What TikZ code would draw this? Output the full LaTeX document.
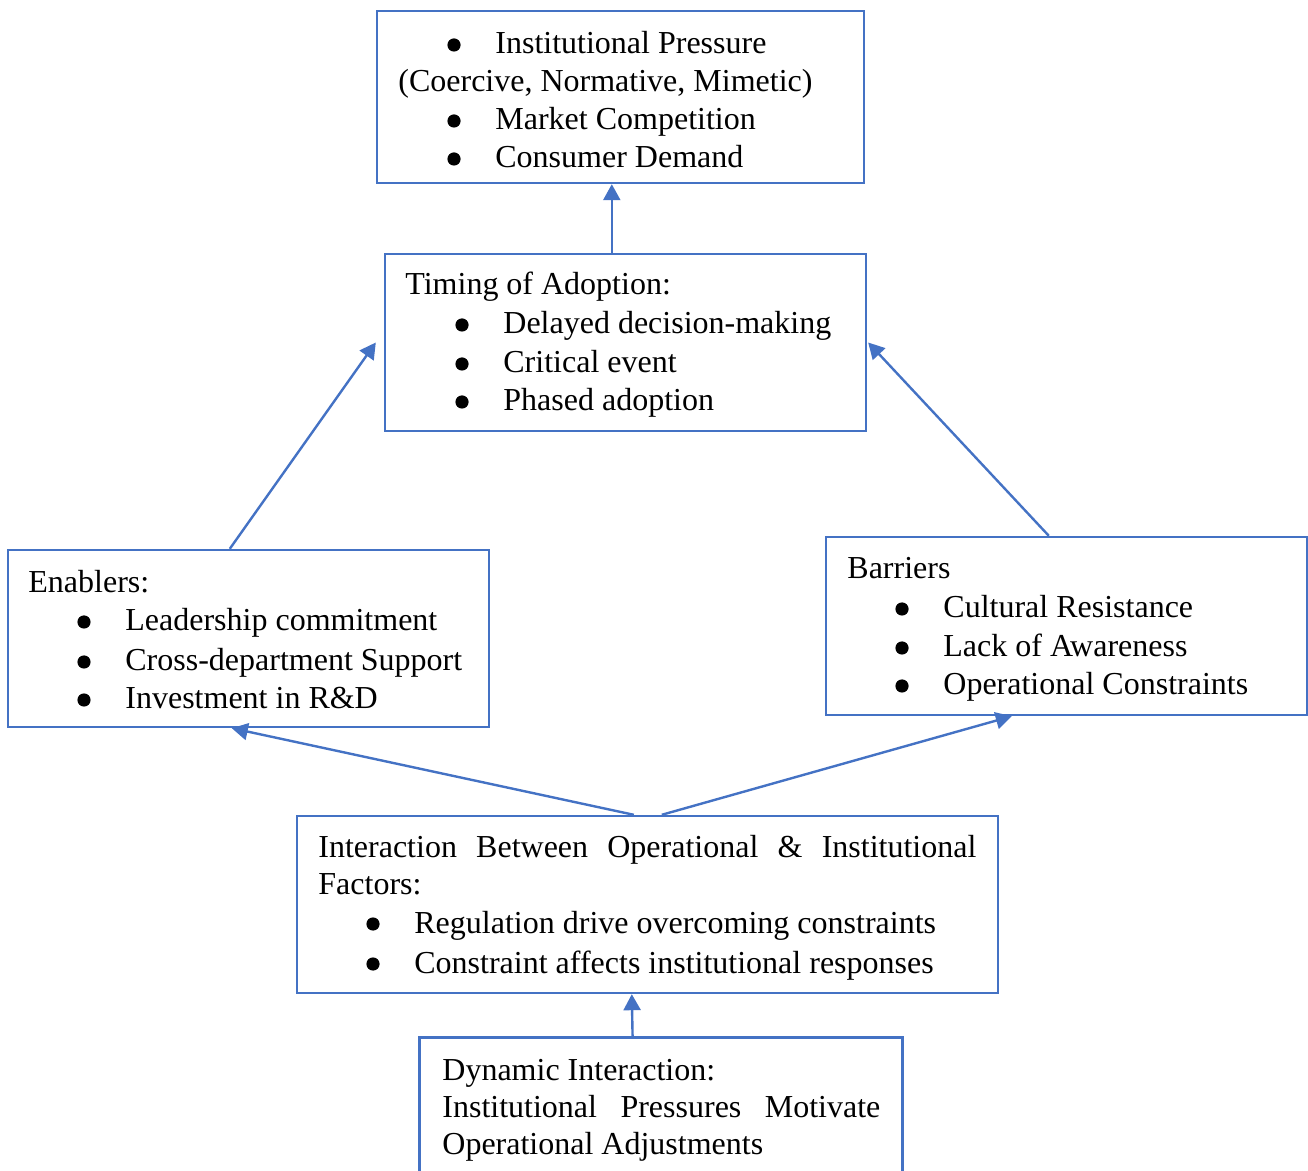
\documentclass[tikz,border=0pt]{standalone}
\usepackage{fontspec}
\setmainfont{Liberation Serif}
\usetikzlibrary{arrows.meta,calc}
\definecolor{boxblue}{RGB}{68,114,196}
\begin{document}
\begin{tikzpicture}[x=0.5pt,y=-0.5pt,
  box/.style={draw=boxblue,line width=1.2pt,inner sep=0pt},
  openbox/.style={inner sep=0pt},
  txt/.style={anchor=base west,inner sep=0pt,font=\fontsize{16}{19}\selectfont},
  arr/.style={draw=boxblue,line width=1.2pt,-{Triangle[length=8pt,width=8.5pt]}},
  dot/.style={fill=black}]
\useasboundingbox (0,0) rectangle (1308,1171);

% boxes
\node[box,minimum width=243.5pt,minimum height=86pt]   (b1) at (620.5,97)   {};
\node[box,minimum width=240.5pt,minimum height=88.5pt] (b2) at (625.5,342.5) {};
\node[box,minimum width=240.5pt,minimum height=88.5pt] (b3) at (248.5,638.5) {};
\node[box,minimum width=240.5pt,minimum height=89pt]   (b4) at (1066.5,626) {};
\node[box,minimum width=350.5pt,minimum height=88.5pt] (b5) at (647.5,904.5) {};
\node[openbox,minimum width=241pt,minimum height=66.5pt] (b6) at (661,1104.5) {};
\draw[draw=boxblue,line width=1.2pt] (b6.south west) -- (b6.north west) -- (b6.north east) -- (b6.south east);

% pressures
\node[txt] (b1a) at (495,54)  {Institutional Pressure};
\node[txt] (b1b) at (398,92)  {(Coercive, Normative, Mimetic)};
\node[txt] (b1c) at (495,130) {Market Competition};
\node[txt] (b1d) at (495,168) {Consumer Demand};

% timing
\node[txt] (b2a) at (405,295) {Timing of Adoption:};
\node[txt] (b2b) at (503,334) {Delayed decision-making};
\node[txt] (b2c) at (503,373) {Critical event};
\node[txt] (b2d) at (503,411) {Phased adoption};

% enablers
\node[txt] (b3a) at (28,593)  {Enablers:};
\node[txt] (b3b) at (125,631) {Leadership commitment};
\node[txt] (b3c) at (125,671) {Cross-department Support};
\node[txt] (b3d) at (125,709) {Investment in R\&D};

% barriers
\node[txt] (b4a) at (847,579) {Barriers};
\node[txt] (b4b) at (943,618) {Cultural Resistance};
\node[txt] (b4c) at (943,657) {Lack of Awareness};
\node[txt] (b4d) at (943,695) {Operational Constraints};

% interaction
\node[txt] (b5a) at (318,857) {\makebox[329pt][s]{Interaction Between Operational \& Institutional}};
\node[txt] (b5b) at (318,894) {Factors:};
\node[txt] (b5c) at (414,933) {Regulation drive overcoming constraints};
\node[txt] (b5d) at (414,973) {Constraint affects institutional responses};

% dynamic interaction
\node[txt] (b6a) at (442,1080) {Dynamic Interaction:};
\node[txt] (b6b) at (442,1117) {\makebox[219pt][s]{Institutional Pressures Motivate}};
\node[txt] (b6c) at (442,1154) {Operational Adjustments};

% list bullets, hung left of each item
\foreach \n in {b1a,b1c,b1d,b2b,b2c,b2d,b3b,b3c,b3d,b4b,b4c,b4d,b5c,b5d}
  \fill[dot] ($(\n.base west)+(-41,-9)$) circle (3.3pt);

% connectors
\draw[arr] ($(b2.north west)+(228,0)$) -- ($(b1.south west)+(236,0)$);
\draw[arr] ($(b3.north west)+(223,0)$) -- ($(b2.west)+(-8,0)$);
\draw[arr] ($(b4.north west)+(224,0)$) -- ($(b2.east)+(1,0)$);
\draw[arr] ($(b5.north west)+(338,0)$) -- ($(b3.south west)+(225,0)$);
\draw[arr] ($(b5.north west)+(366,0)$) -- ($(b4.south west)+(187,0)$);
\draw[arr] ($(b6.north west)+(213,0)$) -- ($(b5.south west)+(336,0)$);
\end{tikzpicture}
\end{document}
